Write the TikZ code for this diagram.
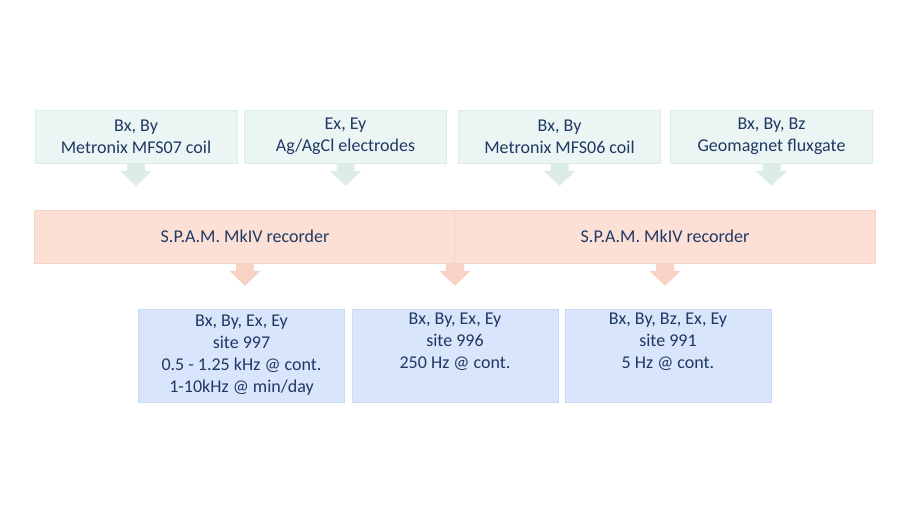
\documentclass[tikz,border=0pt]{standalone}
\usepackage{fontspec}
\setmainfont{Carlito}
\usetikzlibrary{calc}
\definecolor{txtblue}{HTML}{1F3864}
\definecolor{sensfill}{HTML}{EBF5F3}
\definecolor{sensline}{HTML}{DCEDE8}
\definecolor{recfill}{HTML}{FCE0D6}
\definecolor{recline}{HTML}{F8D2C4}
\definecolor{sitefill}{HTML}{D9E5FB}
\definecolor{siteline}{HTML}{C8D8F5}
\tikzset{
  base/.style={rectangle,inner sep=0pt,text=txtblue,align=center,
    font=\fontsize{13.5}{16.5}\selectfont},
  sensor/.style={base,fill=sensfill,draw=sensline,minimum width=151.5pt,minimum height=40pt},
  recorder/.style={base,fill=recfill,draw=recline,minimum width=315.75pt,minimum height=39.75pt},
  site/.style={base,fill=sitefill,draw=siteline,minimum width=154.5pt,minimum height=69.75pt},
}
% block arrow below a point: #1 = top point, #2 = colour
\newcommand{\blockarrow}[2]{%
  \fill[#2] ($(#1)+(-9,0)$) -- ++(18,0) -- ++(0,7.5) -- ++(6.75,0)
    -- ($(#1)+(0,22.5)$) -- ($(#1)+(-15.75,7.5)$) -- ++(6.75,0) -- cycle;}
\begin{document}
\begin{tikzpicture}[x=0.75pt,y=-0.75pt]
\useasboundingbox (0,0) rectangle (909,512);
% sensors
\node[sensor] (s1) at (136,136.5) {Bx, By\\Metronix MFS07 coil};
\node[sensor] (s2) at (345.5,136.5) {Ex, Ey\\Ag/AgCl electrodes};
\node[sensor] (s3) at (559.5,136.5) {Bx, By\\Metronix MFS06 coil};
\node[sensor] (s4) at (771.5,136.5) {Bx, By, Bz\\Geomagnet fluxgate};
% recorders
\node[recorder] (r1) at (245,236.5) {S.P.A.M. MkIV recorder};
\node[recorder] (r2) at (665,236.5) {S.P.A.M. MkIV recorder};
% sites
\node[site] (d1) at (241.5,355.5) {Bx, By, Ex, Ey\\site 997\\0.5 - 1.25 kHz @ cont.\\1-10kHz @ min/day};
\node[site] (d2) at (455,355.5) {Bx, By, Ex, Ey\\site 996\\250 Hz @ cont.\\\strut};
\node[site] (d3) at (668,355.5) {Bx, By, Bz, Ex, Ey\\site 991\\5 Hz @ cont.\\\strut};
% arrows
\foreach \s in {s1,s2,s3,s4}
  \blockarrow{\s.south}{sensline};
\coordinate (rj) at ($(r1.south east)!0.5!(r2.south west)$);
\blockarrow{r1.south}{recline}
\blockarrow{rj}{recline}
\blockarrow{r2.south}{recline}
\end{tikzpicture}
\end{document}
